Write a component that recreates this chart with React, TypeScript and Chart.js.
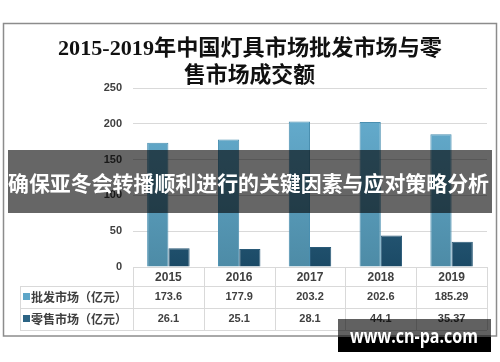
import React, { useEffect, useRef } from "react";
import { Chart, registerables } from "chart.js";

Chart.register(...registerables);

const titleLines = ["2015-2019年中国灯具市场批发市场与零", "售市场成交额"];
const years = ["2015", "2016", "2017", "2018", "2019"];
const wholesale = [173.6, 177.9, 203.2, 202.6, 185.29];
const retail = [26.1, 25.1, 28.1, 44.1, 35.37];
const wholesaleText = ["173.6", "177.9", "203.2", "202.6", "185.29"];
const retailText = ["26.1", "25.1", "28.1", "44.1", "35.37"];
const seriesNames = ["批发市场（亿元）", "零售市场（亿元）"];
const bannerText = "确保亚冬会转播顺利进行的关键因素与应对策略分析";
const watermarkText = "www.cn-pa.com";

function fitText(ctx: CanvasRenderingContext2D, text: string, cx: number, y: number, width: number) {
  const m = ctx.measureText(text).width;
  const s = width / m;
  ctx.save();
  ctx.translate(cx, y);
  ctx.scale(s, 1);
  ctx.textAlign = "center";
  ctx.fillText(text, 0, 0);
  ctx.restore();
}

export default function App() {
  const ref = useRef<HTMLCanvasElement | null>(null);
  useEffect(() => {
    document.body.style.margin = "0";
    const canvas = ref.current!;
    const grad = (top: string, bottom: string) => (c: any) => {
      const area = c.chart.chartArea;
      if (!area) return top;
      const g = c.chart.ctx.createLinearGradient(0, area.top, 0, area.bottom);
      g.addColorStop(0, top);
      g.addColorStop(1, bottom);
      return g;
    };
    const overlay = {
      id: "overlay",
      beforeDraw(chart: any) {
        const ctx = chart.ctx as CanvasRenderingContext2D;
        ctx.save();
        ctx.fillStyle = "#ffffff";
        ctx.fillRect(0, 0, chart.width, chart.height);
        ctx.strokeStyle = "#8c8c8c";
        ctx.lineWidth = 1.5;
        ctx.strokeRect(3.5, 23.5, 493, 312.5);
        ctx.fillStyle = "#111111";
        ctx.textBaseline = "middle";
        ctx.font = 'bold 22px "Liberation Serif", "Noto Sans CJK SC", serif';
        fitText(ctx, titleLines[0], 250, 49, 384);
        fitText(ctx, titleLines[1], 249.5, 76, 131);
        ctx.restore();
      },
      afterDraw(chart: any) {
        const ctx = chart.ctx as CanvasRenderingContext2D;
        const area = chart.chartArea;
        const xs = chart.scales.x;
        const n = years.length;
        const step = (area.right - area.left) / n;
        const r0 = area.bottom, r1 = 286, r2 = 308, r3 = 330;
        const hl = 20;
        ctx.save();
        ctx.strokeStyle = "#d9d9d9";
        ctx.lineWidth = 1;
        const line = (x1: number, y1: number, x2: number, y2: number) => {
          ctx.beginPath();
          ctx.moveTo(x1, y1);
          ctx.lineTo(x2, y2);
          ctx.stroke();
        };
        line(area.left, r0 + 0.5, area.right, r0 + 0.5);
        [r1, r2, r3].forEach((y) => line(hl, y + 0.5, area.right, y + 0.5));
        line(hl + 0.5, r1, hl + 0.5, r3);
        for (let i = 0; i <= n; i++) {
          const x = Math.round(area.left + i * step) + 0.5;
          line(x, r0, x, r3);
        }
        // row headers
        const colors = ["#5ea6c8", "#2c6484"];
        const rowsY = [(r1 + r2) / 2, (r2 + r3) / 2];
        ctx.textBaseline = "middle";
        rowsY.forEach((y, k) => {
          ctx.fillStyle = colors[k];
          ctx.fillRect(23, y - 4, 7, 7);
          ctx.fillStyle = "#404040";
          ctx.font = 'bold 12px "Noto Sans CJK SC", sans-serif';
          ctx.textAlign = "left";
          ctx.fillText(seriesNames[k], 31, y);
        });
        ctx.font = 'bold 11px "Liberation Sans", sans-serif';
        ctx.textAlign = "center";
        ctx.fillStyle = "#404040";
        for (let i = 0; i < n; i++) {
          const x = xs.getPixelForValue(i);
          ctx.fillText(wholesaleText[i], x, rowsY[0]);
          ctx.fillText(retailText[i], x, rowsY[1]);
        }
        // banner
        ctx.fillStyle = "rgba(0,0,0,0.6)";
        ctx.fillRect(8, 150, 484, 63);
        ctx.fillStyle = "#ffffff";
        ctx.font = 'bold 21px "Noto Sans CJK SC", sans-serif';
        ctx.textBaseline = "middle";
        fitText(ctx, bannerText, 248.5, 183, 481);
        // watermark
        ctx.fillStyle = "rgba(0,0,0,0.62)";
        ctx.fillRect(338, 319, 153, 18);
        ctx.fillStyle = "#000000";
        ctx.fillRect(338, 337, 153, 15);
        ctx.fillStyle = "#ffffff";
        ctx.font = 'bold 19px "Open Sans", sans-serif';
        ctx.textBaseline = "alphabetic";
        fitText(ctx, watermarkText, 414, 343, 128);
        ctx.restore();
      },
    };
    const chart = new Chart(canvas, {
      type: "bar",
      data: {
        labels: years,
        datasets: [
          {
            label: seriesNames[0],
            data: wholesale,
            backgroundColor: grad("#68b1d4", "#4d8ba6"),
            borderColor: "#4a8fb0",
            borderWidth: 1,
            categoryPercentage: 0.6,
            barPercentage: 1,
          },
          {
            label: seriesNames[1],
            data: retail,
            backgroundColor: grad("#437c9c", "#1b4a66"),
            borderColor: "#2a5a78",
            borderWidth: 1,
            categoryPercentage: 0.6,
            barPercentage: 1,
          },
        ],
      },
      options: {
        animation: false,
        responsive: false,
        layout: { padding: { top: 88, left: 0, right: 13, bottom: 76 } },
        plugins: { legend: { display: false }, tooltip: { enabled: false }, title: { display: false } },
        scales: {
          x: {
            grid: { display: false, drawTicks: false },
            border: { display: false },
            ticks: { color: "#404040", font: { family: '"Liberation Sans", sans-serif', size: 12, weight: "bold" }, padding: 3 },
            afterFit: (s: any) => { s.height = 19; },
          },
          y: {
            min: 0,
            max: 250,
            grid: { color: "#d9d9d9", drawTicks: false },
            border: { display: false },
            ticks: { stepSize: 50, color: "#404040", font: { family: '"Liberation Sans", sans-serif', size: 11, weight: "bold" }, padding: 11 },
            afterFit: (s: any) => { s.width = 133; },
          },
        },
      },
      plugins: [overlay],
    });
    return () => chart.destroy();
  }, []);
  return (
    <div style={{ width: 500, height: 362 }}>
      <canvas ref={ref} width={500} height={362} style={{ display: "block", width: 500, height: 362 }} />
    </div>
  );
}
